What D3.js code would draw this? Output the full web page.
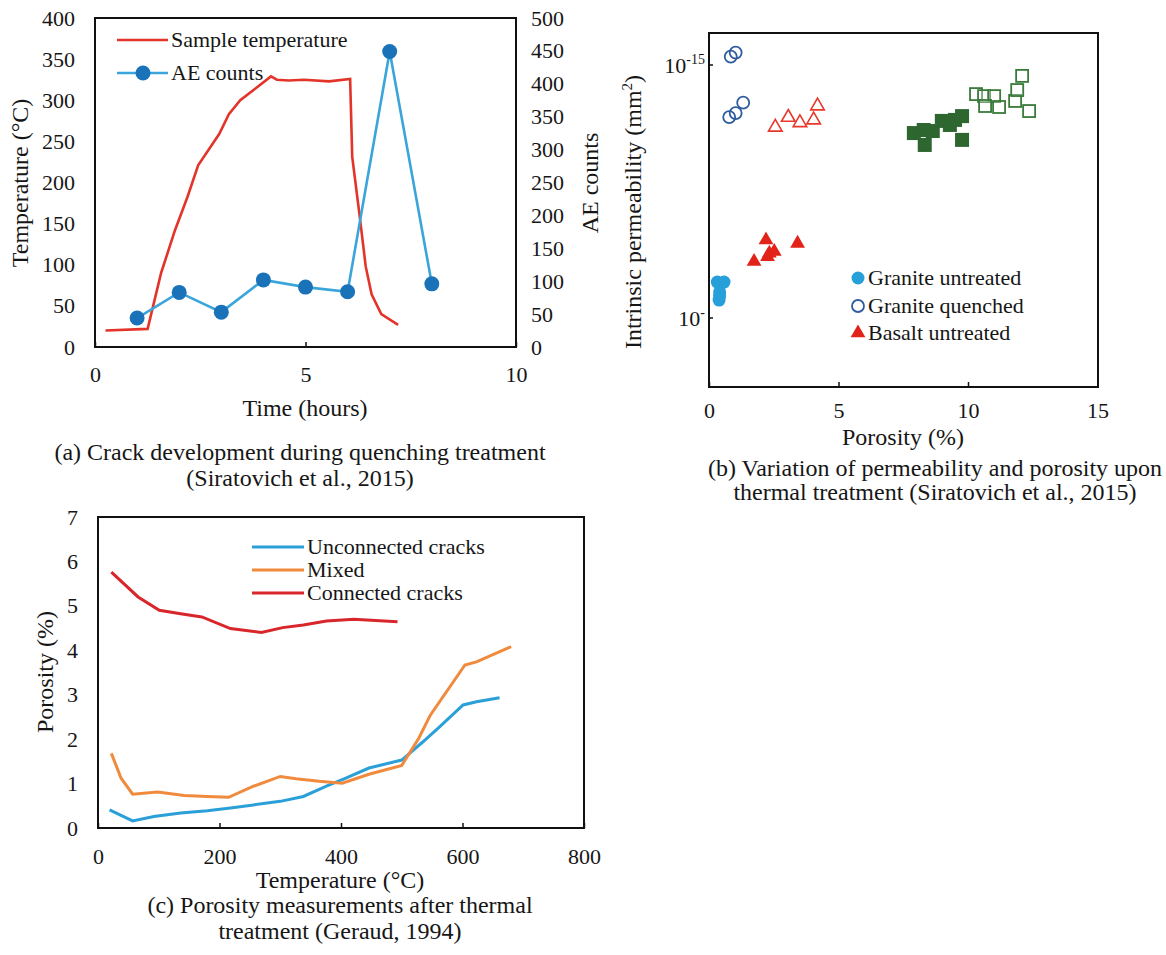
<!DOCTYPE html>
<html>
<head>
<meta charset="utf-8">
<script src="https://cdn.jsdelivr.net/npm/d3@7"></script>
<style>
  body { margin: 0; background: #fff; }
  text { font-family: "Liberation Serif", "Times New Roman", serif; fill: #161616; }
</style>
</head>
<body>
<div id="fig"></div>
<script>
// ---------- panel (a) data ----------
var tempTime = [0.25, 1.25, 1.57, 1.9, 2.2, 2.45, 2.95, 3.18, 3.45, 4.18, 4.32, 4.6, 4.96, 5.56, 6.06, 6.11, 6.29, 6.43, 6.57, 6.8, 7.2];
var tempVal  = [20, 22, 90, 142, 183, 221, 259, 283, 300, 329, 325, 324, 325, 323, 326, 231, 158, 98, 64, 40, 27];
var aeTime   = [1, 2, 3, 4, 5, 6, 7, 8];
var aeVal    = [44, 83, 53, 102, 91, 84, 449, 96];

// ---------- panel (b) data (porosity %, log10 permeability) ----------
var graniteUntreatedX = [0.32, 0.58, 0.39, 0.41, 0.41];
var graniteUntreatedY = [-15.858, -15.858, -15.929, -15.913, -15.897];
var graniteQuenchedX  = [0.84, 1.03, 0.78, 1.03, 1.32];
var graniteQuenchedY  = [-14.967, -14.951, -15.206, -15.19, -15.149];
var basaltUntreatedX  = [2.20, 1.74, 2.33, 2.52, 2.26, 3.42];
var basaltUntreatedY  = [-15.692, -15.777, -15.744, -15.737, -15.758, -15.705];
var basaltQuenchedX   = [2.56, 3.06, 3.51, 4.04, 4.19];
var basaltQuenchedY   = [-15.246, -15.207, -15.228, -15.217, -15.162];
var greenFilledX = [7.91, 8.29, 8.33, 8.64, 8.99, 9.30, 9.50, 9.77, 9.77];
var greenFilledY = [-15.269, -15.257, -15.316, -15.261, -15.221, -15.237, -15.217, -15.202, -15.296];
var greenOpenX   = [10.31, 10.62, 11.01, 10.66, 11.20, 11.82, 11.90, 12.09, 12.36];
var greenOpenY   = [-15.115, -15.123, -15.123, -15.162, -15.166, -15.142, -15.099, -15.043, -15.182];

// ---------- panel (c) data ----------
var connT = [22, 66, 101, 136, 171, 218, 269, 304, 338, 376, 421, 493];
var connP = [5.76, 5.2, 4.9, 4.82, 4.75, 4.49, 4.40, 4.51, 4.57, 4.66, 4.70, 4.64];
var mixT  = [22, 38, 57, 98, 142, 180, 215, 256, 300, 326, 364, 402, 446, 500, 528, 547, 604, 623, 680];
var mixP  = [1.68, 1.12, 0.76, 0.81, 0.73, 0.71, 0.69, 0.94, 1.16, 1.11, 1.05, 1.01, 1.21, 1.41, 2.02, 2.54, 3.67, 3.74, 4.08];
var uncT  = [19, 57, 92, 136, 180, 218, 256, 300, 338, 376, 408, 446, 500, 534, 560, 601, 623, 661];
var uncP  = [0.41, 0.16, 0.26, 0.34, 0.39, 0.45, 0.52, 0.60, 0.71, 0.94, 1.12, 1.35, 1.53, 1.93, 2.25, 2.77, 2.84, 2.93];

var tickSize = 22, legendSize = 22, titleSize = 24, captionSize = 24;

var svg = d3.select("#fig").append("svg")
  .attr("width", 1166).attr("height", 955);

function zip(xs, ys) { return xs.map(function(x, i) { return [x, ys[i]]; }); }

function styleAxis(g) {
  g.select(".domain").remove();
  g.selectAll(".tick line").attr("stroke", "#111").attr("stroke-width", 1.5);
  g.selectAll(".tick text").style("font-size", tickSize + "px").attr("fill", "#161616");
}

function label(x, y, str, size, anchor, rot) {
  var t = svg.append("text").style("font-size", size + "px")
    .attr("text-anchor", anchor || "start").text(str);
  if (rot) t.attr("transform", "translate(" + x + "," + y + ") rotate(" + rot + ")");
  else t.attr("x", x).attr("y", y);
  return t;
}

// =============== panel (a) ===============
var a = {left: 95, right: 516, top: 18, bottom: 347};
var xa = d3.scaleLinear().domain([0, 10]).range([a.left, a.right]);
var ya = d3.scaleLinear().domain([0, 400]).range([a.bottom, a.top]);
var ya2 = d3.scaleLinear().domain([0, 500]).range([a.bottom, a.top]);

svg.append("g").attr("transform", "translate(0," + a.bottom + ")")
  .call(d3.axisBottom(xa).tickValues([0, 5, 10]).tickSize(-5).tickPadding(19))
  .call(styleAxis);
svg.append("g").attr("transform", "translate(" + a.left + ",0)")
  .call(d3.axisLeft(ya).ticks(8).tickSize(0).tickPadding(20))
  .call(styleAxis);
svg.append("g").attr("transform", "translate(" + a.right + ",0)")
  .call(d3.axisRight(ya2).ticks(10).tickSize(0).tickPadding(15))
  .call(styleAxis);

svg.append("rect").attr("x", a.left).attr("y", a.top)
  .attr("width", a.right - a.left).attr("height", a.bottom - a.top)
  .attr("fill", "none").attr("stroke", "#111").attr("stroke-width", 2);

svg.append("path").datum(zip(tempTime, tempVal))
  .attr("d", d3.line().x(function(d) { return xa(d[0]); }).y(function(d) { return ya(d[1]); }))
  .attr("fill", "none").attr("stroke", "#e3342a").attr("stroke-width", 2.6);

var aeData = zip(aeTime, aeVal);
svg.append("path").datum(aeData)
  .attr("d", d3.line().x(function(d) { return xa(d[0]); }).y(function(d) { return ya2(d[1]); }))
  .attr("fill", "none").attr("stroke", "#3aa5da").attr("stroke-width", 2.6);
svg.append("g").selectAll("circle").data(aeData).enter().append("circle")
  .attr("cx", function(d) { return xa(d[0]); })
  .attr("cy", function(d) { return ya2(d[1]); })
  .attr("r", 7.5).attr("fill", "#1a72b8");

// legend (a)
svg.append("line").attr("x1", 117).attr("x2", 168).attr("y1", 40).attr("y2", 40)
  .attr("stroke", "#e3342a").attr("stroke-width", 2.6);
label(171, 47, "Sample temperature", legendSize);
svg.append("line").attr("x1", 117).attr("x2", 168).attr("y1", 73).attr("y2", 73)
  .attr("stroke", "#3aa5da").attr("stroke-width", 2.6);
svg.append("circle").attr("cx", 143).attr("cy", 73).attr("r", 7.5).attr("fill", "#1a72b8");
label(171, 80, "AE counts", legendSize);

label(28, 183, "Temperature (°C)", titleSize, "middle", -90);
label(598, 183, "AE counts", titleSize, "middle", -90);
label(305, 416, "Time (hours)", titleSize, "middle");
label(300, 460, "(a) Crack development during quenching treatment", captionSize, "middle");
label(300, 486, "(Siratovich et al., 2015)", captionSize, "middle");

// =============== panel (b) ===============
var b = {left: 709, right: 1098, top: 33, bottom: 387};
var xb = d3.scaleLinear().domain([0, 15]).range([b.left, b.left + 15 * 25.9]);
var yb = d3.scaleLinear().domain([-16, -15]).range([318, 65]); // log10 permeability

svg.append("g").attr("transform", "translate(0," + b.bottom + ")")
  .call(d3.axisBottom(xb).tickValues([0, 5, 10, 15]).tickSize(-5).tickPadding(15))
  .call(styleAxis);

svg.append("rect").attr("x", b.left).attr("y", b.top)
  .attr("width", b.right - b.left).attr("height", b.bottom - b.top)
  .attr("fill", "none").attr("stroke", "#111").attr("stroke-width", 2);

// log tick labels
var yLabels = [{v: -15, sup: "-15"}, {v: -16, sup: "-"}];
yLabels.forEach(function(l) {
  var t = svg.append("text").attr("x", b.left - 4).attr("y", yb(l.v) + 8)
    .attr("text-anchor", "end").style("font-size", tickSize + "px");
  t.append("tspan").text("10");
  t.append("tspan").attr("dy", -9).style("font-size", "14px").text(l.sup);
  svg.append("line").attr("x1", b.left).attr("x2", b.left + 4)
    .attr("y1", yb(l.v)).attr("y2", yb(l.v)).attr("stroke", "#111").attr("stroke-width", 1.5);
});

function markerGroup(xs, ys, draw) {
  var data = zip(xs, ys);
  svg.append("g").selectAll("g").data(data).enter().append("g")
    .attr("transform", function(d) { return "translate(" + xb(d[0]) + "," + yb(d[1]) + ")"; })
    .each(function() { draw(d3.select(this)); });
}
var tri = d3.symbol().type(d3.symbolTriangle).size(95);
var triOpen = d3.symbol().type(d3.symbolTriangle).size(80);

markerGroup(greenFilledX, greenFilledY, function(g) {
  g.append("rect").attr("x", -7).attr("y", -7).attr("width", 14).attr("height", 14).attr("fill", "#2e6630");
});
markerGroup(greenOpenX, greenOpenY, function(g) {
  g.append("rect").attr("x", -6).attr("y", -6).attr("width", 12).attr("height", 12)
    .attr("fill", "#fff").attr("fill-opacity", 0.3).attr("stroke", "#3a7a3a").attr("stroke-width", 1.8);
});
markerGroup(graniteQuenchedX, graniteQuenchedY, function(g) {
  g.append("circle").attr("r", 6).attr("fill", "none").attr("stroke", "#2f5c9e").attr("stroke-width", 1.8);
});
markerGroup(basaltQuenchedX, basaltQuenchedY, function(g) {
  g.append("path").attr("d", triOpen).attr("fill", "#fff").attr("fill-opacity", 0.3)
    .attr("stroke", "#e8372b").attr("stroke-width", 1.6);
});
markerGroup(graniteUntreatedX, graniteUntreatedY, function(g) {
  g.append("circle").attr("r", 6.5).attr("fill", "#27a0da");
});
markerGroup(basaltUntreatedX, basaltUntreatedY, function(g) {
  g.append("path").attr("d", tri).attr("fill", "#e2231a");
});

// legend (b)
var lb = [
  {y: 278, label: "Granite untreated"},
  {y: 306, label: "Granite quenched"},
  {y: 333, label: "Basalt untreated"}
];
svg.append("circle").attr("cx", 858).attr("cy", lb[0].y).attr("r", 6.5).attr("fill", "#27a0da");
svg.append("circle").attr("cx", 858).attr("cy", lb[1].y).attr("r", 6).attr("fill", "none")
  .attr("stroke", "#2f5c9e").attr("stroke-width", 1.8);
svg.append("path").attr("transform", "translate(858," + lb[2].y + ")").attr("d", tri).attr("fill", "#e2231a");
lb.forEach(function(l) { label(868, l.y + 7, l.label, legendSize); });

var yTitle = label(641, 212, "", titleSize, "middle", -90);
yTitle.append("tspan").text("Intrinsic permeability (mm");
yTitle.append("tspan").attr("dy", -9).style("font-size", "15px").text("2");
yTitle.append("tspan").attr("dy", 9).text(")");
label(903, 445, "Porosity (%)", titleSize, "middle");
label(935, 476, "(b) Variation of permeability and porosity upon", captionSize, "middle");
label(935, 500, "thermal treatment (Siratovich et al., 2015)", captionSize, "middle");

// =============== panel (c) ===============
var c = {left: 98, right: 584, top: 517, bottom: 828};
var xc = d3.scaleLinear().domain([0, 800]).range([c.left, c.right]);
var yc = d3.scaleLinear().domain([0, 7]).range([c.bottom, c.top]);

svg.append("g").attr("transform", "translate(0," + c.bottom + ")")
  .call(d3.axisBottom(xc).tickValues([0, 200, 400, 600, 800]).tickSize(-5).tickPadding(20))
  .call(styleAxis);
svg.append("g").attr("transform", "translate(" + c.left + ",0)")
  .call(d3.axisLeft(yc).ticks(7).tickSize(0).tickPadding(20))
  .call(styleAxis);

svg.append("rect").attr("x", c.left).attr("y", c.top)
  .attr("width", c.right - c.left).attr("height", c.bottom - c.top)
  .attr("fill", "none").attr("stroke", "#111").attr("stroke-width", 2);

var lineC = d3.line().x(function(d) { return xc(d[0]); }).y(function(d) { return yc(d[1]); });
var seriesC = [
  {name: "Unconnected cracks", color: "#2a9fd8", data: zip(uncT, uncP)},
  {name: "Mixed", color: "#f08a3c", data: zip(mixT, mixP)},
  {name: "Connected cracks", color: "#d8262b", data: zip(connT, connP)}
];
seriesC.forEach(function(s, i) {
  svg.append("path").datum(s.data).attr("d", lineC)
    .attr("fill", "none").attr("stroke", s.color).attr("stroke-width", 3);
  var ly = 547 + i * 23;
  svg.append("line").attr("x1", 252).attr("x2", 304).attr("y1", ly).attr("y2", ly)
    .attr("stroke", s.color).attr("stroke-width", 3.2);
  label(307, ly + 7, s.name, legendSize);
});

label(53, 672, "Porosity (%)", titleSize, "middle", -90);
label(340, 888, "Temperature (°C)", titleSize, "middle");
label(340, 913, "(c) Porosity measurements after thermal", captionSize, "middle");
label(340, 939, "treatment (Geraud, 1994)", captionSize, "middle");
</script>
</body>
</html>
